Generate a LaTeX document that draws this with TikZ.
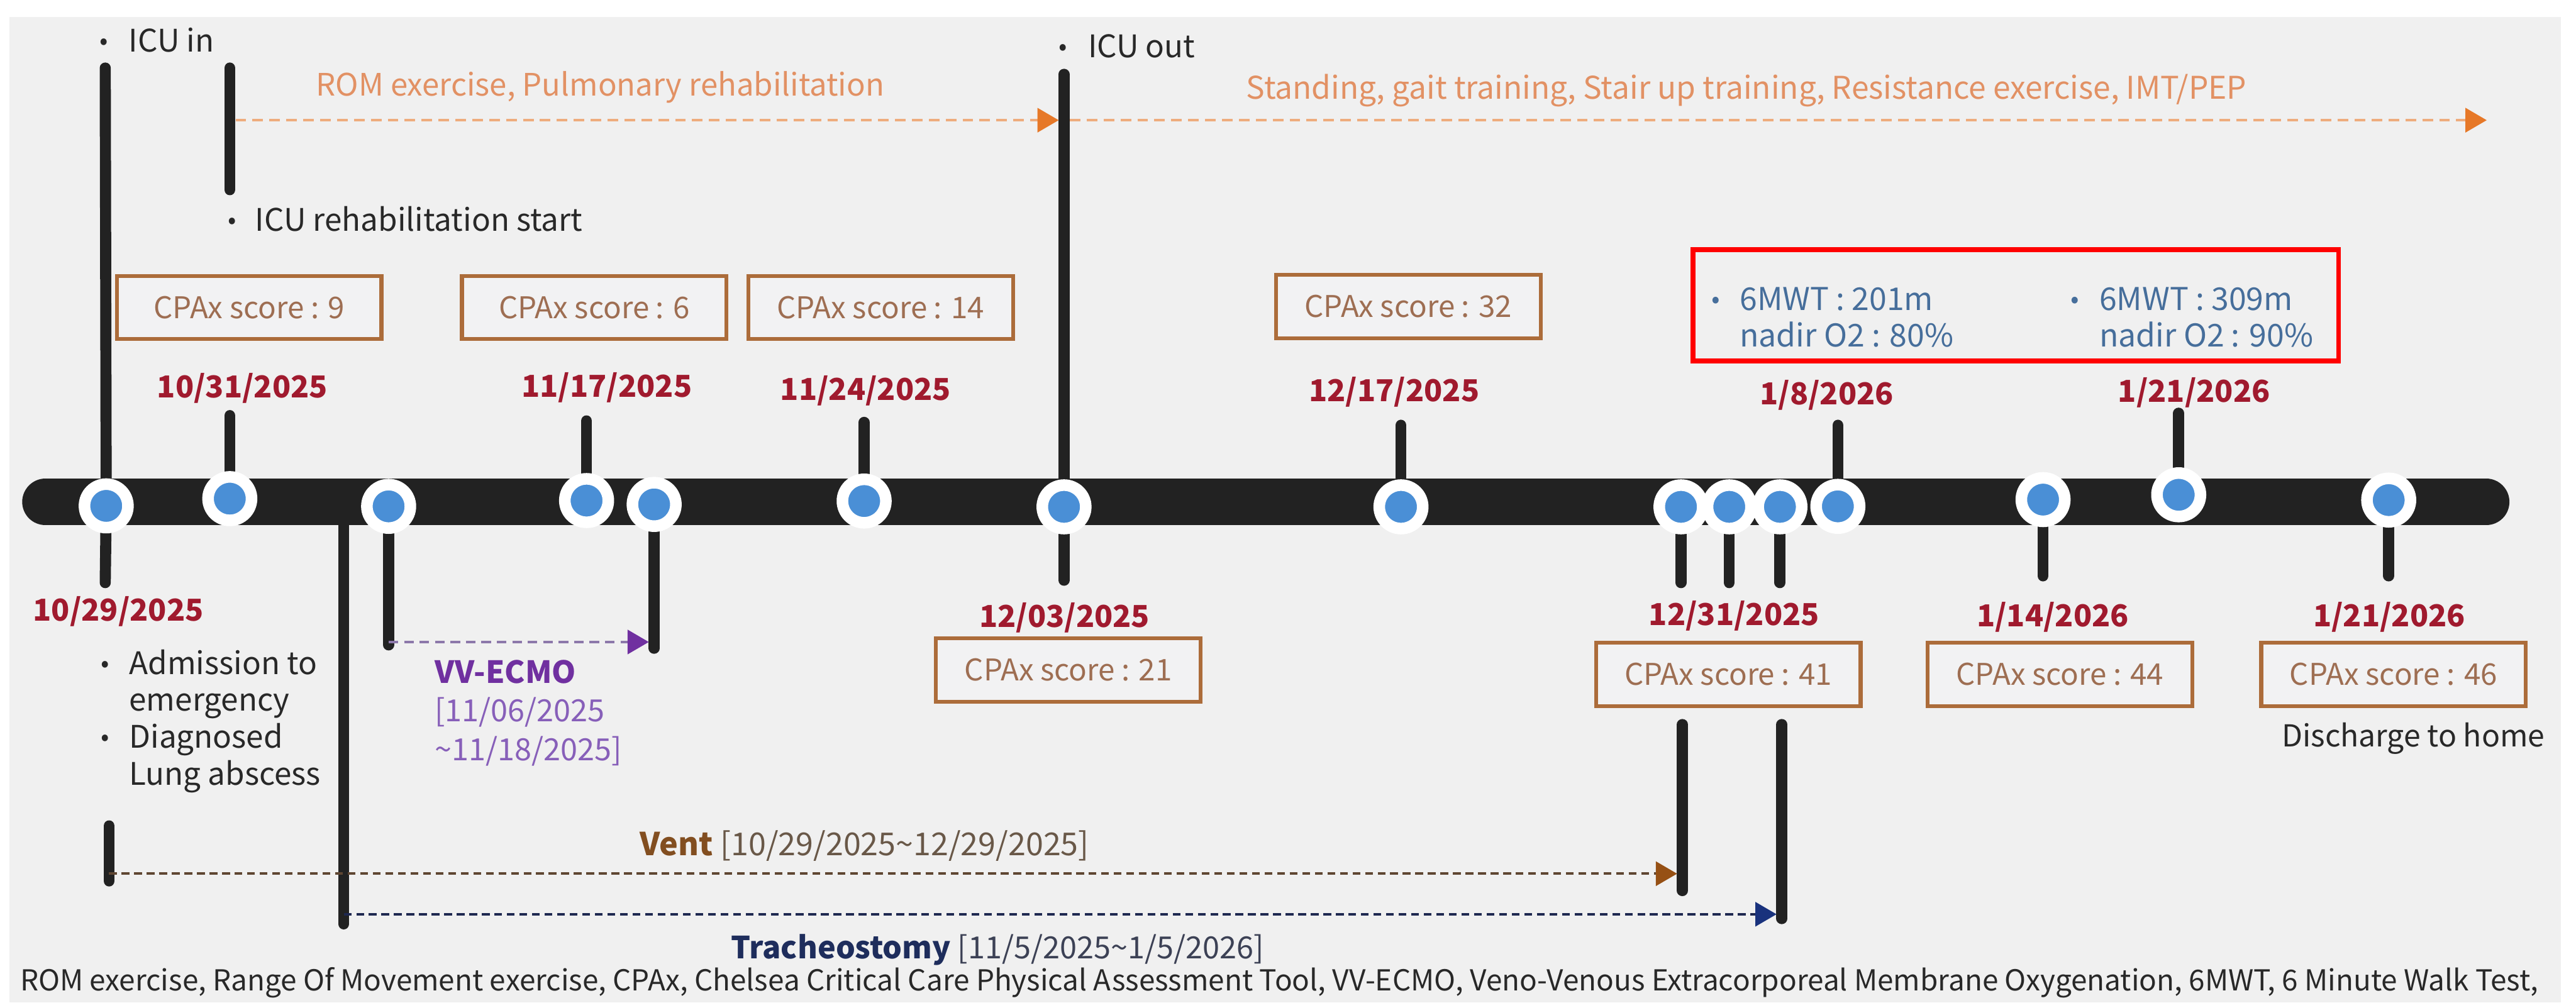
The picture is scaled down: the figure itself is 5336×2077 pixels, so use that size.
\documentclass[tikz,border=0pt]{standalone}
\usepackage{fontspec}
\setmainfont{Noto Sans CJK KR}
\usetikzlibrary{arrows.meta}
\definecolor{bg}{RGB}{240,240,240}
\definecolor{barblack}{RGB}{34,34,34}
\definecolor{dotblue}{RGB}{74,143,214}
\definecolor{datered}{RGB}{160,26,46}
\definecolor{txtgray}{RGB}{40,40,40}
\definecolor{orangetxt}{RGB}{226,145,100}
\definecolor{orangedash}{RGB}{238,172,125}
\definecolor{orangetip}{RGB}{230,120,40}
\definecolor{boxbrown}{RGB}{172,108,58}
\definecolor{boxfill}{RGB}{242,242,243}
\definecolor{boxtext}{RGB}{158,110,82}
\definecolor{mwtblue}{RGB}{70,110,155}
\definecolor{ecmopurple}{RGB}{112,48,160}
\definecolor{ecmolight}{RGB}{135,95,185}
\definecolor{ecmodash}{RGB}{140,120,170}
\definecolor{ventbrown}{RGB}{130,78,32}
\definecolor{ventgray}{RGB}{105,88,72}
\definecolor{ventdash}{RGB}{95,70,50}
\definecolor{venttip}{RGB}{150,80,20}
\definecolor{trachnavy}{RGB}{30,45,92}
\definecolor{trachgray}{RGB}{60,65,85}
\definecolor{trachdash}{RGB}{30,40,80}
\definecolor{trachtip}{RGB}{25,50,125}
\newcommand{\bul}[1]{\makebox[#1][l]{\raisebox{0.15ex}{\scalebox{0.8}{\textbullet}}}}
\begin{document}
\begin{tikzpicture}[x=0.01cm,y=-0.01cm,
  lbl/.style={inner sep=0pt, text=txtgray, font=\fontsize{18.3}{20}\selectfont},
  datelbl/.style={inner sep=0pt, text=datered, font=\fontsize{17.8}{20}\selectfont\bfseries},
  cpax/.style={draw=boxbrown, line width=0.08cm, fill=boxfill, minimum width=5.48cm,
    minimum height=1.31cm, inner sep=0pt, text=boxtext, font=\fontsize{17.6}{20}\selectfont},
  tdot/.style={circle, fill=dotblue, draw=white, line width=0.24cm, minimum size=0.9cm, inner sep=0pt},
  stem/.style={line width=0.23cm, line cap=round, draw=barblack},
  romarrow/.style={draw=orangedash, line width=0.05cm, dash pattern=on 0.22cm off 0.13cm,
    -{Triangle[length=0.44cm,width=0.5cm,color=orangetip]}},
  ecmoarrow/.style={draw=ecmodash, line width=0.05cm, dash pattern=on 0.2cm off 0.12cm,
    -{Triangle[length=0.44cm,width=0.5cm,color=ecmopurple]}},
  ventarrow/.style={draw=ventdash, line width=0.05cm, dash pattern=on 0.16cm off 0.1cm,
    -{Triangle[length=0.44cm,width=0.5cm,color=venttip]}},
  tracharrow/.style={draw=trachdash, line width=0.05cm, dash pattern=on 0.16cm off 0.1cm,
    -{Triangle[length=0.44cm,width=0.5cm,color=trachtip]}}
]
\useasboundingbox (0,0) rectangle (5336,2077);
\fill[white] (0,0) rectangle (5336,2077);
\fill[bg] (20,35) rectangle (5305,2077);

% dots on the timeline
\coordinate (c1) at (220,1048);
\coordinate (c2) at (476,1033);
\coordinate (c3) at (805,1049);
\coordinate (c4) at (1215,1037);
\coordinate (c5) at (1355,1045);
\coordinate (c6) at (1790,1038);
\coordinate (c7) at (2204,1050);
\coordinate (c8) at (2902,1050);
\coordinate (c9) at (3482,1050);
\coordinate (c10) at (3582,1050);
\coordinate (c11) at (3687,1050);
\coordinate (c12) at (3807,1049);
\coordinate (c13) at (4232,1035);
\coordinate (c14) at (4513,1025);
\coordinate (c15) at (4948,1036);

% stem ends
\coordinate (icuinTop) at (218,141);
\coordinate (c1Bot) at (218,1207);
\coordinate (c2Top) at (476,861);
\coordinate (c3Bot) at (805,1336);
\coordinate (c4Top) at (1215,872);
\coordinate (c5Bot) at (1355,1343);
\coordinate (c6Top) at (1790,875);
\coordinate (icuoutTop) at (2204,154);
\coordinate (c7Bot) at (2204,1202);
\coordinate (c8Top) at (2902,881);
\coordinate (c9Bot) at (3482,1207);
\coordinate (c10Bot) at (3582,1207);
\coordinate (c11Bot) at (3687,1207);
\coordinate (c12Top) at (3807,881);
\coordinate (c13Bot) at (4232,1193);
\coordinate (c14Top) at (4513,856);
\coordinate (c15Bot) at (4948,1193);
\coordinate (rehabTop) at (476,141);
\coordinate (rehabBot) at (476,393);
\coordinate (trachTop) at (712,1088);
\coordinate (trachBot) at (712,1914);
\coordinate (ventTop) at (226,1711);
\coordinate (ventBot) at (226,1825);
\coordinate (ventEndTop) at (3485,1501);
\coordinate (ventEndBot) at (3485,1845);
\coordinate (trachEndTop) at (3691,1501);
\coordinate (trachEndBot) at (3691,1903);

\draw[stem] (c1) -- (icuinTop);
\draw[stem] (c1) -- (c1Bot);
\draw[stem] (c2) -- (c2Top);
\draw[stem] (c3) -- (c3Bot);
\draw[stem] (c4) -- (c4Top);
\draw[stem] (c5) -- (c5Bot);
\draw[stem] (c6) -- (c6Top);
\draw[stem] (c7) -- (icuoutTop);
\draw[stem] (c7) -- (c7Bot);
\draw[stem] (c8) -- (c8Top);
\draw[stem] (c9) -- (c9Bot);
\draw[stem] (c10) -- (c10Bot);
\draw[stem] (c11) -- (c11Bot);
\draw[stem] (c12) -- (c12Top);
\draw[stem] (c13) -- (c13Bot);
\draw[stem] (c14) -- (c14Top);
\draw[stem] (c15) -- (c15Bot);
\draw[stem] (rehabTop) -- (rehabBot);
\draw[stem] (trachTop) -- (trachBot);
\draw[stem] (ventTop) -- (ventBot);
\draw[stem] (ventEndTop) -- (ventEndBot);
\draw[stem] (trachEndTop) -- (trachEndBot);

% main bar
\draw[barblack, line width=0.96cm, line cap=round] (94,1040) -- (5150,1040);

\foreach \i in {1,...,15} { \node[tdot] (d\i) at (c\i) {}; }

% top annotations
\node[lbl, anchor=west] (icuin) at (206,83) {\bul{0.6cm}ICU in};
\node[lbl, anchor=west] (rehab) at (472,453) {\bul{0.56cm}ICU rehabilitation start};
\node[lbl, anchor=west] (icuout) at (2192,96) {\bul{0.61cm}ICU out};
\node[inner sep=0pt, anchor=west, text=orangetxt, font=\fontsize{18.2}{20}\selectfont] (romtxt) at (654,181) {ROM exercise, Pulmonary rehabilitation};
\node[inner sep=0pt, anchor=west, text=orangetxt, font=\fontsize{18.4}{20}\selectfont] (standtxt) at (2581,188) {Standing, gait training, Stair up training, Resistance exercise, IMT/PEP};

\coordinate (romStart) at (488,249);
\coordinate (romEnd) at (2193,249);
\coordinate (standStart) at (2216,249);
\coordinate (standEnd) at (5151,249);
\draw[romarrow] (romStart) -- (romEnd);
\draw[romarrow] (standStart) -- (standEnd);

% CPAx boxes
\node[cpax] (b9) at (516,637) {CPAx score : 9};
\node[cpax] (b6) at (1231,637) {CPAx score : 6};
\node[cpax] (b14) at (1824,637) {CPAx score : 14};
\node[cpax] (b32) at (2917,635) {CPAx score : 32};
\node[cpax] (b21) at (2213,1388) {CPAx score : 21};
\node[cpax] (b41) at (3580,1397) {CPAx score : 41};
\node[cpax] (b44) at (4267,1397) {CPAx score : 44};
\node[cpax] (b46) at (4958,1397) {CPAx score : 46};

% 6MWT box
\draw[red, line width=0.1cm] (3507,517) rectangle (4844,748);
\node[inner sep=0pt, anchor=west, align=left, text=mwtblue, font=\fontsize{18.5}{21.3}\selectfont] (mwt1) at (3544,657)
  {\bul{0.59cm}6MWT : 201m\\\hspace*{0.59cm}nadir O2 : 80\%};
\node[inner sep=0pt, anchor=west, align=left, text=mwtblue, font=\fontsize{18.5}{21.3}\selectfont] (mwt2) at (4289,657)
  {\bul{0.59cm}6MWT : 309m\\\hspace*{0.59cm}nadir O2 : 90\%};

% dates
\node[datelbl] (t1) at (502,804) {10/31/2025};
\node[datelbl] (t2) at (1257,803) {11/17/2025};
\node[datelbl] (t3) at (1793,810) {11/24/2025};
\node[datelbl] (t4) at (2888,812) {12/17/2025};
\node[datelbl] (t5) at (3784,818) {1/8/2026};
\node[datelbl] (t6) at (4545,814) {1/21/2026};
\node[datelbl] (t7) at (245,1267) {10/29/2025};
\node[datelbl] (t8) at (2205,1280) {12/03/2025};
\node[datelbl] (t9) at (3592,1276) {12/31/2025};
\node[datelbl] (t10) at (4252,1278) {1/14/2026};
\node[datelbl] (t11) at (4949,1278) {1/21/2026};

% lower annotations
\node[lbl, anchor=west, align=left, font=\fontsize{18.3}{21.8}\selectfont] (adm) at (209,1494)
  {\bul{0.58cm}Admission to\\\hspace*{0.58cm}emergency\\\bul{0.58cm}Diagnosed\\\hspace*{0.58cm}Lung abscess};
\node[inner sep=0pt, anchor=west, align=left, font=\fontsize{18}{22.7}\selectfont] (ecmolbl) at (900,1477)
  {\textcolor{ecmopurple}{\bfseries VV-ECMO}\\\textcolor{ecmolight}{[11/06/2025}\\\textcolor{ecmolight}{\textasciitilde 11/18/2025]}};
\node[lbl, anchor=west, font=\fontsize{17.8}{20}\selectfont] (disch) at (4726,1530) {Discharge to home};

\coordinate (ecmoStart) at (805,1330);
\coordinate (ecmoEnd) at (1344,1330);
\draw[ecmoarrow] (ecmoStart) -- (ecmoEnd);

\coordinate (ventStart) at (226,1810);
\coordinate (ventEnd) at (3474,1810);
\draw[ventarrow] (ventStart) -- (ventEnd);
\node[inner sep=0pt, anchor=west, font=\fontsize{18.6}{20}\selectfont] (ventlbl) at (1325,1752)
  {\textcolor{ventbrown}{\bfseries Vent} \textcolor{ventgray}{[10/29/2025\textasciitilde 12/29/2025]}};

\coordinate (trachStart) at (712,1894);
\coordinate (trachEnd) at (3680,1894);
\draw[tracharrow] (trachStart) -- (trachEnd);
\node[inner sep=0pt, anchor=west, font=\fontsize{18}{20}\selectfont] (trachlbl) at (1514,1968)
  {\textcolor{trachnavy}{\bfseries Tracheostomy} \textcolor{trachgray}{[11/5/2025\textasciitilde 1/5/2026]}};

\node[lbl, anchor=west, font=\fontsize{17}{19}\selectfont] (foot) at (41,2036)
  {ROM exercise, Range Of Movement exercise, CPAx, Chelsea Critical Care Physical Assessment Tool, VV-ECMO, Veno-Venous Extracorporeal Membrane Oxygenation, 6MWT, 6 Minute Walk Test,};
\end{tikzpicture}
\end{document}
